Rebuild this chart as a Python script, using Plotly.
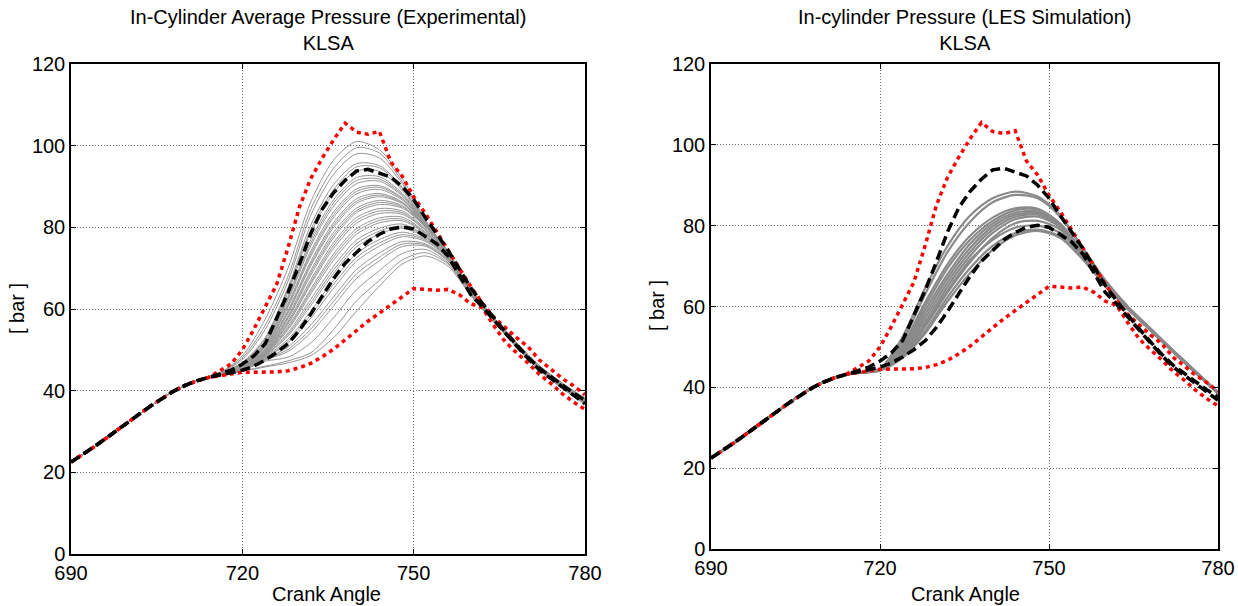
import plotly.graph_objects as go

# ---------------- data ----------------
# common compression stroke (crank angle 690..716, step 2)
comp_angle = [690, 692, 694, 696, 698, 700, 702, 704, 706, 708, 710, 712, 714, 716]
compression = [22.5, 24.3, 26.2, 28.2, 30.3, 32.3, 34.3, 36.3, 38.2, 39.9, 41.3, 42.4, 43.2, 43.8]

# envelope statistics (718..780, step 2)
env_tail_angle = [718, 720, 722, 724, 726, 728, 730, 732, 734, 736, 738, 740, 742, 744, 746, 748,
                  750, 752, 754, 756, 758, 760, 762, 764, 766, 768, 770, 772, 774, 776, 778, 780]
p_max_tail = [46.5, 50, 55, 60.5, 66, 75, 85, 92, 97, 101.5, 105.5, 103.3, 102.8, 103.5, 96, 92.5,
              87.5, 83.5, 79, 74.5, 70, 65.5, 61.5, 58, 55.5, 53, 50.8, 47.5, 45.3, 43, 41.2, 39]
p_min_tail = [44.2, 44.5, 44.5, 44.5, 44.6, 44.9, 45.6, 46.7, 48.3, 50.2, 52.5, 54.8, 57, 59, 61, 63,
              65, 64.8, 64.6, 64.8, 63.5, 61.3, 60.3, 56, 52, 49.3, 46.8, 44, 41.8, 39.3, 37.2, 35.4]
p_up_tail = [45, 46.5, 48.5, 51.5, 57.5, 64, 71, 78.5, 84.5, 88.5, 91.5, 93.8, 94.2, 93.3, 92.3, 90,
             86.8, 82.5, 78.3, 74.4, 69.8, 65.2, 61.4, 57.8, 54.5, 51.3, 48.2, 45.5, 43.4, 41.3, 39.4, 37.6]
p_lo_tail = [44.3, 45, 46, 47.5, 49.3, 51.5, 54.8, 58.8, 63.2, 67.5, 71.2, 74, 76.5, 78.3, 79.6, 80.1,
             79.6, 77.8, 76, 73, 68.2, 63.5, 60.6, 57.3, 54, 51, 47.9, 45.1, 43, 40.9, 38.8, 36.8]

# individual cycles (716..780, step 4)
cyc_angle = [716, 720, 724, 728, 732, 736, 740, 744, 748, 752, 756, 760, 764, 768, 772, 776, 780]

exp_cycles = [
    [44.3, 48.5, 57.5, 70.0, 86.3, 96.5, 101.0, 99.0, 92.0, 82.0, 73.2, 64.8, 57.8, 51.8, 46.2, 41.9, 38.2],
    [44.25, 48.0, 56.0, 68.0, 84.5, 94.5, 99.5, 98.2, 91.2, 81.8, 73.5, 64.8, 57.8, 51.7, 46.1, 41.8, 38.1],
    [44.2, 47.6, 55.0, 66.8, 83.0, 93.0, 98.0, 97.0, 90.7, 81.7, 73.8, 64.9, 57.9, 51.7, 46.0, 41.7, 38.0],
    [44.15, 46.9, 53.0, 65.3, 80.6, 90.5, 95.6, 95.1, 89.8, 81.5, 74.0, 64.7, 57.7, 51.5, 45.9, 41.6, 37.9],
    [44.1, 46.8, 52.6, 64.8, 79.5, 89.3, 94.8, 94.6, 89.5, 81.3, 74.0, 64.6, 57.6, 51.5, 45.8, 41.5, 37.8],
    [44.1, 46.7, 52.1, 64.1, 78.7, 88.5, 93.8, 93.7, 89.0, 81.2, 74.1, 64.6, 57.6, 51.5, 45.8, 41.5, 37.7],
    [44.1, 46.6, 51.7, 63.1, 77.0, 86.8, 92.2, 92.4, 88.3, 81.1, 74.0, 64.8, 57.7, 51.4, 45.8, 41.4, 37.6],
    [44.05, 46.5, 51.5, 62.6, 76.2, 86.0, 91.5, 91.8, 88.0, 81.0, 74.1, 64.7, 57.6, 51.3, 45.7, 41.3, 37.5],
    [44.05, 46.4, 51.3, 62.1, 75.5, 85.2, 90.7, 91.3, 87.7, 80.9, 74.2, 64.5, 57.5, 51.3, 45.6, 41.3, 37.5],
    [44.0, 46.3, 51.0, 61.3, 74.2, 83.8, 89.4, 90.2, 87.2, 80.8, 74.1, 64.6, 57.6, 51.3, 45.7, 41.3, 37.4],
    [44.0, 46.25, 50.8, 60.9, 73.6, 83.1, 88.8, 89.8, 87.0, 80.7, 74.0, 64.5, 57.5, 51.3, 45.6, 41.2, 37.4],
    [44.0, 46.2, 50.6, 60.5, 73.0, 82.5, 88.2, 89.3, 86.7, 80.6, 73.9, 64.4, 57.5, 51.2, 45.6, 41.2, 37.4],
    [43.95, 46.1, 50.3, 59.7, 71.7, 81.2, 87.0, 88.3, 86.2, 80.5, 74.0, 64.5, 57.5, 51.2, 45.6, 41.2, 37.3],
    [43.95, 46.05, 50.1, 59.3, 71.1, 80.6, 86.4, 87.9, 86.0, 80.4, 73.9, 64.4, 57.5, 51.2, 45.6, 41.2, 37.3],
    [43.9, 46.0, 50.0, 59.0, 70.6, 80.0, 85.9, 87.5, 85.8, 80.4, 73.8, 64.3, 57.4, 51.1, 45.5, 41.2, 37.3],
    [43.9, 45.9, 49.7, 58.3, 69.5, 78.8, 84.7, 86.6, 85.3, 80.3, 73.7, 64.4, 57.5, 51.2, 45.5, 41.1, 37.2],
    [43.9, 45.85, 49.6, 57.9, 68.9, 78.1, 84.1, 86.1, 85.0, 80.2, 73.6, 64.3, 57.4, 51.1, 45.5, 41.1, 37.2],
    [43.9, 45.8, 49.45, 57.6, 68.3, 77.5, 83.6, 85.6, 84.7, 80.1, 73.6, 64.3, 57.4, 51.1, 45.5, 41.1, 37.2],
    [43.9, 45.7, 49.3, 57.0, 67.2, 76.3, 82.4, 84.6, 84.0, 79.7, 73.5, 64.4, 57.5, 51.2, 45.5, 41.1, 37.2],
    [43.9, 45.7, 49.2, 56.6, 66.6, 75.6, 81.7, 84.0, 83.6, 79.5, 73.5, 64.3, 57.4, 51.1, 45.4, 41.1, 37.2],
    [43.85, 45.7, 49.1, 56.3, 66.1, 74.9, 81.0, 83.4, 83.2, 79.3, 73.4, 64.3, 57.4, 51.1, 45.4, 41.0, 37.1],
    [43.85, 45.6, 49.0, 55.7, 64.9, 73.5, 79.7, 82.3, 82.5, 78.9, 73.3, 64.3, 57.4, 51.1, 45.4, 41.0, 37.1],
    [43.85, 45.55, 48.9, 55.3, 64.3, 72.8, 79.0, 81.7, 82.0, 78.7, 73.2, 64.2, 57.4, 51.1, 45.4, 41.0, 37.1],
    [43.8, 45.5, 48.8, 54.9, 63.7, 72.0, 78.3, 81.1, 81.6, 78.5, 73.2, 64.2, 57.3, 51.0, 45.4, 41.0, 37.1],
    [43.8, 45.5, 48.7, 54.2, 62.4, 70.5, 76.9, 79.8, 80.8, 78.1, 73.0, 64.2, 57.3, 51.0, 45.3, 40.9, 37.0],
    [43.8, 45.45, 48.6, 53.8, 61.6, 69.6, 76.0, 79.1, 80.3, 77.8, 72.9, 64.1, 57.3, 51.0, 45.3, 40.9, 37.0],
    [43.8, 45.4, 48.5, 53.4, 60.9, 68.8, 75.2, 78.4, 79.8, 77.6, 72.8, 64.1, 57.3, 51.0, 45.3, 40.9, 37.0],
    [43.75, 45.3, 48.3, 52.6, 59.5, 67.1, 73.6, 77.0, 78.8, 77.2, 72.6, 64.1, 57.2, 50.9, 45.3, 40.9, 37.0],
    [43.75, 45.25, 48.1, 52.1, 58.6, 66.1, 72.6, 76.2, 78.2, 76.9, 72.4, 64.0, 57.2, 50.9, 45.2, 40.8, 36.9],
    [43.75, 45.2, 48.0, 51.6, 57.8, 65.1, 71.7, 75.4, 77.7, 76.6, 72.3, 64.0, 57.2, 50.9, 45.2, 40.8, 36.9],
    [43.7, 45.2, 47.8, 50.7, 56.1, 63.0, 69.7, 73.7, 76.5, 76.0, 72.0, 63.9, 57.1, 50.9, 45.2, 40.8, 36.9],
    [43.7, 45.1, 47.6, 50.1, 55.1, 61.9, 68.6, 72.7, 75.9, 75.7, 71.8, 63.8, 57.1, 50.8, 45.1, 40.7, 36.8],
    [43.7, 45.05, 47.5, 49.6, 54.2, 60.8, 67.5, 71.8, 75.3, 75.4, 71.7, 63.8, 57.1, 50.8, 45.1, 40.7, 36.8],
    [43.65, 44.9, 47.2, 48.2, 51.7, 57.9, 64.75, 69.4, 73.6, 74.6, 71.3, 63.6, 57.0, 50.8, 45.1, 40.7, 36.8],
    [43.6, 44.8, 46.0, 47.3, 49.3, 55.0, 62.0, 67.0, 72.0, 73.8, 71.0, 63.4, 56.9, 50.7, 45.0, 40.6, 36.7],
    [43.6, 44.7, 45.8, 46.8, 48.6, 53.0, 59.5, 65.6, 71.0, 73.0, 70.5, 63.3, 56.8, 50.7, 45.0, 40.6, 36.7],
]

les_cycles = [
    [43.6, 44.6, 52.5, 64.5, 75.0, 82.5, 86.8, 88.4, 87.2, 82.5, 74.5, 66.5, 60.0, 54.6, 49.2, 44.0, 38.8],
    [43.6, 44.5, 51.5, 63.0, 73.5, 81.0, 85.8, 87.6, 86.8, 82.2, 74.3, 66.3, 59.9, 54.5, 49.1, 43.9, 38.8],
    [43.6, 44.4, 50.5, 61.0, 70.5, 77.5, 82.0, 84.3, 84.2, 80.5, 73.5, 66.0, 59.8, 54.4, 49.1, 43.9, 38.7],
    [43.6, 44.4, 50.0, 60.0, 69.5, 76.5, 81.2, 83.8, 84.0, 80.3, 73.4, 65.9, 59.8, 54.4, 49.0, 43.8, 38.7],
    [43.6, 44.4, 49.5, 59.0, 68.0, 75.5, 80.5, 83.2, 83.5, 80.2, 73.2, 65.8, 59.7, 54.3, 49.0, 43.8, 38.7],
    [43.6, 44.3, 49.0, 58.0, 67.0, 74.5, 79.8, 82.7, 83.1, 80.0, 73.1, 65.7, 59.7, 54.3, 49.0, 43.8, 38.6],
    [43.6, 44.3, 48.6, 57.0, 66.0, 73.5, 79.0, 82.2, 82.7, 79.8, 73.0, 65.7, 59.6, 54.3, 48.9, 43.7, 38.6],
    [43.6, 44.3, 48.2, 56.0, 65.0, 72.5, 78.2, 81.6, 82.2, 79.6, 72.9, 65.6, 59.6, 54.2, 48.9, 43.7, 38.6],
    [43.6, 44.2, 47.8, 55.0, 63.5, 71.0, 77.0, 80.6, 81.2, 79.0, 72.6, 65.5, 59.5, 54.2, 48.9, 43.7, 38.5],
    [43.6, 44.2, 47.5, 54.0, 62.3, 69.5, 75.0, 78.2, 79.0, 77.3, 71.8, 65.2, 59.4, 54.1, 48.8, 43.6, 38.5],
    [43.6, 44.2, 47.3, 53.3, 61.3, 68.3, 74.0, 77.6, 78.7, 77.0, 71.6, 65.1, 59.3, 54.1, 48.8, 43.6, 38.5],
    [43.6, 44.3, 48.0, 55.5, 64.0, 71.5, 76.5, 79.5, 80.0, 78.2, 72.2, 65.3, 59.4, 54.2, 48.8, 43.7, 38.5],
]

x_ticks = [690, 720, 750, 780]
y_ticks = [0, 20, 40, 60, 80, 100, 120]
titles = ["In-Cylinder Average Pressure (Experimental)<br>KLSA",
          "In-cylinder Pressure (LES Simulation)<br>KLSA"]
x_label = "Crank Angle"
y_label = "[ bar ]"

# ---------------- figure ----------------
FONT = "Liberation Sans, Arial, sans-serif"
W, H = 1238, 606

env_angle = comp_angle[:-1] + env_tail_angle
p_max = compression[:-1] + p_max_tail
p_min = compression[:-1] + p_min_tail
p_up = compression[:-1] + p_up_tail
p_lo = compression[:-1] + p_lo_tail
cyc_x = comp_angle[:-1] + cyc_angle

fig = go.Figure()


def add_panel(cycles, xa, ya, gray_color, gray_width):
    for cyc in cycles:
        fig.add_trace(go.Scatter(
            x=cyc_x, y=compression[:-1] + cyc, mode="lines",
            line=dict(color=gray_color, width=gray_width, shape="spline", smoothing=0.8),
            xaxis=xa, yaxis=ya, showlegend=False, hoverinfo="skip"))
    for ys in (p_max, p_min):
        fig.add_trace(go.Scatter(
            x=env_angle, y=ys, mode="lines",
            line=dict(color="#ff0000", width=3.5, dash="4px,4px"),
            xaxis=xa, yaxis=ya, showlegend=False, hoverinfo="skip"))
    for ys in (p_up, p_lo):
        fig.add_trace(go.Scatter(
            x=env_angle, y=ys, mode="lines",
            line=dict(color="#000000", width=3.5, dash="10px,5px"),
            xaxis=xa, yaxis=ya, showlegend=False, hoverinfo="skip"))


add_panel(exp_cycles, "x", "y", "#969696", 1)
add_panel(les_cycles, "x2", "y2", "#8a8a8a", 2.2)

axis_common = dict(
    showgrid=True, gridcolor="#6e6e6e", griddash="1px,2px", gridwidth=1,
    showline=True, linecolor="black", linewidth=1.5, mirror="ticks",
    ticks="inside", ticklen=5, tickcolor="black", tickwidth=1,
    zeroline=False, automargin=False,
    tickfont=dict(family=FONT, size=20, color="black"),
)

lx0, lx1 = 71 / W, 585 / W
rx0, rx1 = 711 / W, 1218 / W
ytop = 1 - 64 / H
lyb = 1 - 554 / H
ryb = 1 - 549 / H

fig.update_layout(
    width=W, height=H,
    margin=dict(l=0, r=0, t=0, b=0),
    paper_bgcolor="white", plot_bgcolor="white",
    showlegend=False,
    xaxis=dict(domain=[lx0, lx1], range=[690, 780], tickvals=x_ticks, anchor="y", **axis_common),
    yaxis=dict(domain=[lyb, ytop], range=[0, 120], tickvals=y_ticks, anchor="x", **axis_common),
    xaxis2=dict(domain=[rx0, rx1], range=[690, 780], tickvals=x_ticks, anchor="y2", **axis_common),
    yaxis2=dict(domain=[ryb, ytop], range=[0, 120], tickvals=y_ticks, anchor="x2", **axis_common),
)

ann_font = dict(family=FONT, size=20, color="black")
annotations = [
    dict(text=titles[0], x=328 / W, y=1 - 30 / H),
    dict(text=titles[1], x=964.5 / W, y=1 - 30 / H),
    dict(text=x_label, x=326 / W, y=1 - 594 / H),
    dict(text=x_label, x=965 / W, y=1 - 594 / H),
    dict(text=y_label, x=17 / W, y=1 - 309 / H, textangle=-90),
    dict(text=y_label, x=657 / W, y=1 - 306 / H, textangle=-90),
]
for a in annotations:
    a.update(xref="paper", yref="paper", showarrow=False, xanchor="center", yanchor="middle", font=ann_font)
fig.update_layout(annotations=annotations)

fig.write_html(
    "out.html",
    config={"displayModeBar": False},
    post_script="document.body.style.margin='0';document.body.style.overflow='hidden';",
)
